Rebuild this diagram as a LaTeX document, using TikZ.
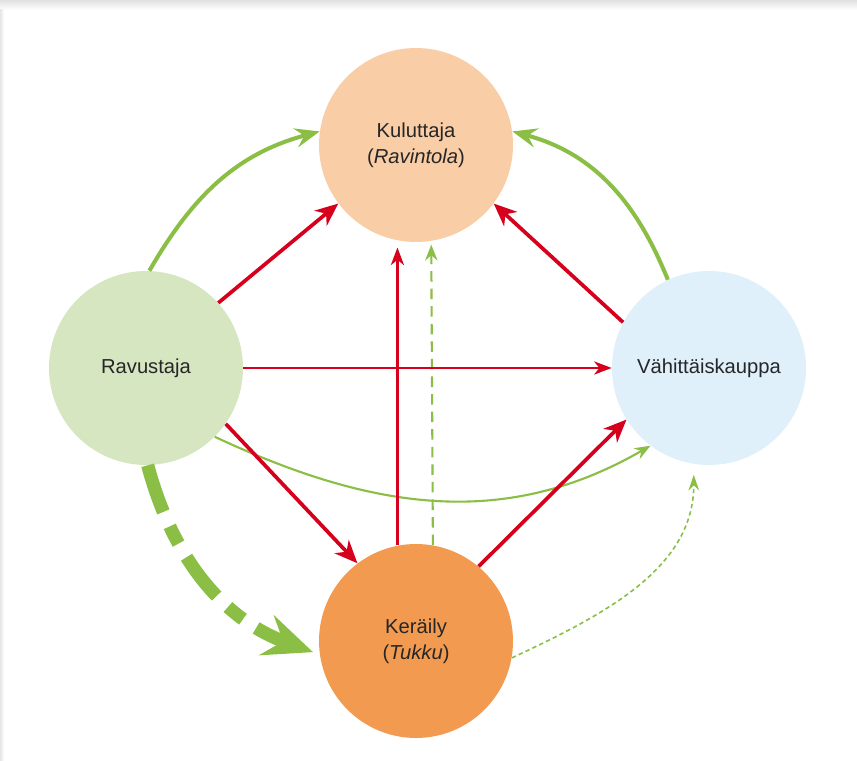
\documentclass[tikz,border=0pt]{standalone}
\usepackage{fontspec}
\setmainfont{Liberation Sans}
\usepackage{xcolor}
\usetikzlibrary{arrows.meta}

\definecolor{punainen}{HTML}{D6001C}
\definecolor{vihrea}{HTML}{8BBE45}
\definecolor{kulvari}{HTML}{F9CDA5}
\definecolor{ravvari}{HTML}{D6E6C1}
\definecolor{vahvari}{HTML}{DFF0FA}
\definecolor{kervari}{HTML}{F29B50}

\tikzset{
  pallo/.style={circle, minimum size=3.88cm, inner sep=0pt, align=center,
    text=black!85, font=\fontsize{11.5}{15}\selectfont},
  punapaksu/.style={draw=punainen, line width=2.1pt,
    -{Stealth[length=13pt, width=11pt, inset=4pt]}},
  punaohut/.style={draw=punainen, line width=1.3pt,
    -{Stealth[length=10pt, width=7.5pt, inset=3pt]}},
  vihreapaksu/.style={draw=vihrea, line width=2.3pt,
    -{Stealth[length=14pt, width=11pt, inset=5pt]}},
  vihreaohut/.style={draw=vihrea, line width=1.2pt,
    -{Stealth[length=9pt, width=7pt, inset=3pt]}}
}

\begin{document}
\begin{tikzpicture}[x=0.02cm, y=0.02cm]
        % Page and shadow edge
        \useasboundingbox (0,0) rectangle (857,760);
        \fill[white] (0,0) rectangle (857,760);
        \fill[top color=black!12, bottom color=white] (0,750) rectangle (857,760);
        \fill[left color=black!10, right color=white] (0,0) rectangle (4,750);

        % Define the four circles
        \node[pallo, fill=kulvari] (kul) at (416, 615) {Kuluttaja\\(\textit{Ravintola})};
        \node[pallo, fill=ravvari] (rav) at (146, 392) {Ravustaja};
        \node[pallo, fill=vahvari] (vah) at (709, 392) {Vähittäiskauppa};
        \node[pallo, fill=kervari] (ker) at (416, 119) {Keräily\\(\textit{Tukku})};

        % Green flows
        \draw[vihreapaksu] (rav.88) to[out=60, in=195] (kul.172);
        \draw[vihreapaksu] (vah.115) to[out=112, in=-15] (kul.8);
        \draw[vihreaohut] (rav.-45) to[out=-25, in=210] (vah.233);
        \draw[vihreaohut, dash pattern=on 6pt off 4pt, shorten >=2pt] (ker.80.5) -- (kul.279.5);
        \draw[draw=vihrea, line width=0.9pt, dash pattern=on 2.5pt off 1.8pt,
              -{Stealth[length=9pt, width=6pt, inset=3pt]}, shorten >=6pt]
              (ker.-10) to[out=25, in=-90] (vah.261);
        \draw[draw=vihrea, line width=7.5pt, dash pattern=on 28pt off 9pt on 11pt off 9pt,
              -{Stealth[length=28pt, width=24pt, inset=10pt]}, shorten >=4pt]
              (rav.271) to[out=-75, in=160] (ker.188);

        % Red flows
        \draw[punapaksu] (rav.42) -- (kul.217);
        \draw[punapaksu] (rav.-35) -- (ker.127);
        \draw[punapaksu] (ker.50) -- (vah.212);
        \draw[punapaksu] (vah.152) -- (kul.-37);
        \draw[punaohut] (rav.east) -- (vah.west);
        \draw[punaohut, shorten >=4pt] (ker.101) -- (kul.259);
\end{tikzpicture}
\end{document}
